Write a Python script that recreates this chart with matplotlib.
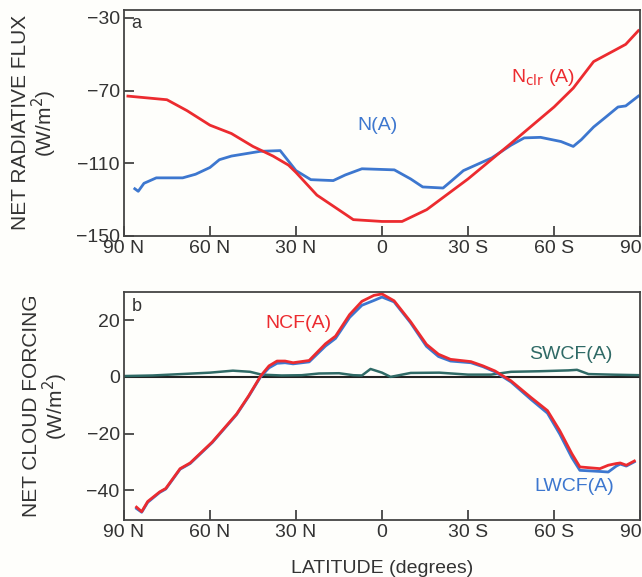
import matplotlib.pyplot as plt

# -------------------------------------
#  Data (latitude: negative = N, positive = S)
# -------------------------------------

lat_nclr = [-88.6, -75, -68, -60, -52.5, -45, -38, -32.6, -30, -22.7, -12.8, -10, 0, 7,
            15.6, 30, 45, 60, 66.7, 73.8, 80.9, 85, 89.4]
nclr = [-73, -75, -81, -89, -93.6, -100.7, -106, -111, -115, -127.5, -138, -141, -142,
        -142, -135.5, -118.6, -99, -79, -68.6, -54, -48, -44.5, -37]

lat_n = [-86.2, -85, -83, -78.7, -69.5, -65, -60, -56.7, -52.5, -42.5, -35.5, -30, -24.8,
         -17, -12.8, -7, 4.3, 10, 14.2, 21.3, 24, 28.4, 38.3, 45, 49.6, 55.3, 62.4, 66.7,
         69.5, 73.8, 78, 82.3, 85, 89.4]
n_all = [-124, -125.4, -121, -118, -118, -116, -112.3, -108, -106, -103.4, -103, -114,
         -119, -119.5, -116.4, -113, -113.6, -118.6, -123, -123.6, -120, -114, -107, -100,
         -96, -95.7, -98, -100.7, -97, -90, -84.6, -79, -78.4, -73]

lat_cf = [-85.6, -83.8, -81.7, -77.5, -75.4, -70.4, -66.9, -59.2, -50.7, -46.5, -42.3,
          -39.4, -36.6, -33.8, -31, -25.4, -19.7, -16.2, -11.3, -7, -2.8, 0, 4.2, 9.9,
          15.5, 19.7, 23.9, 31, 35.2, 39.4, 45, 52, 57.7, 62, 66.2, 69, 76, 78.9, 81.7,
          83.1, 85.2, 88]
ncf = [-46, -47.6, -44, -40.6, -39.4, -32.4, -30.4, -23, -13.1, -6.7, 0.35, 3.9, 5.6, 5.6,
       5, 5.8, 11.7, 14.4, 22, 26.7, 28.8, 29.3, 26.9, 19.6, 11.5, 8, 6.2, 5.4, 3.9, 2.1,
       -1.4, -7.3, -11.9, -19, -27.1, -31.8, -32.4, -31.2, -30.6, -30.4, -31.2, -29.7]
lwcf = [-46.5, -47.8, -44.3, -40.8, -39.6, -32.6, -30.6, -23.2, -13.3, -6.9, 0.1, 3.2, 4.8,
        5.0, 4.6, 5.3, 10.9, 13.6, 21, 25.3, 27, 28.2, 26.5, 19.2, 10.8, 7.2, 5.6, 5.0,
        3.6, 1.8, -1.8, -8, -12.8, -20.2, -28.5, -33, -33.4, -33.6, -31.5, -30.8, -31.5,
        -30]

lat_sw = [-90, -80, -70, -60, -52, -46, -42, -35, -28, -22, -15, -10, -7, -4, 0, 3, 6, 10,
          20, 30, 38, 45, 55, 65, 68, 72, 80, 90]
swcf = [0.3, 0.5, 1, 1.5, 2.2, 1.8, 0.8, 0.5, 0.6, 1.2, 1.3, 0.6, 0.5, 2.8, 1.5, 0.0, 0.6,
        1.4, 1.5, 0.8, 0.8, 1.8, 2.0, 2.3, 2.5, 1.0, 0.8, 0.6]

xticks = [-90, -60, -30, 0, 30, 60, 90]
xticklabels = ["90 N", "60 N", "30 N", "0", "30 S", "60 S", "90 S"]

RED = "#ec2b2f"
BLUE = "#3d77cf"
TEAL = "#2f6a66"
FRAME = "#444444"
TXT = "#333333"

plt.rcParams["font.family"] = ["Liberation Sans", "DejaVu Sans"]

fig = plt.figure(figsize=(6.42, 5.77), dpi=100)
fig.patch.set_facecolor("#fefefb")

ax1 = fig.add_axes([0.193, 0.591, 0.804, 0.392])
ax2 = fig.add_axes([0.193, 0.099, 0.804, 0.395])

for ax in (ax1, ax2):
    ax.set_facecolor("#fefefb")
    ax.set_xlim(-90, 90)
    ax.set_xticks(xticks)
    ax.set_xticklabels(xticklabels)
    ax.tick_params(direction="in", length=7, width=1.3, colors=FRAME,
                   labelsize=14, labelcolor=TXT, pad=3)
    for s in ax.spines.values():
        s.set_color(FRAME)
        s.set_linewidth(1.3)

# -------------------------------------
#  Panel a
# -------------------------------------
ax1.plot(lat_n, n_all, color=BLUE, lw=2)
ax1.plot(lat_nclr, nclr, color=RED, lw=2)
ax1.set_ylim(-150, -25.5)
ax1.set_yticks([-30, -70, -110, -150])
ax1.text(0.015, 0.975, "a", transform=ax1.transAxes, va="top", fontsize=13, color=TXT)
ax1.text(-1.5, -89, "N(A)", color=BLUE, fontsize=14, ha="center", va="center")
ax1.text(56, -63, r"N$_{\rm clr}$ (A)", color=RED, fontsize=14, ha="center", va="center")
ax1.set_ylabel("NET RADIATIVE FLUX\n(W/m$^2$)", fontsize=15, color=TXT,
               linespacing=1.0, labelpad=12)

# -------------------------------------
#  Panel b
# -------------------------------------
ax2.axhline(0, color="#222222", lw=1.5)
ax2.plot(lat_sw, swcf, color=TEAL, lw=1.8)
ax2.plot(lat_cf, lwcf, color=BLUE, lw=2)
ax2.plot(lat_cf, ncf, color=RED, lw=2)
ax2.set_ylim(-50.5, 30)
ax2.set_yticks([20, 0, -20, -40])
ax2.text(0.015, 0.975, "b", transform=ax2.transAxes, va="top", fontsize=13, color=TXT)
ax2.text(-29, 19, "NCF(A)", color=RED, fontsize=14, ha="center", va="center")
ax2.text(66, 8, "SWCF(A)", color=TEAL, fontsize=14, ha="center", va="center")
ax2.text(67, -38.6, "LWCF(A)", color=BLUE, fontsize=14, ha="center", va="center")
ax2.set_ylabel("NET CLOUD FORCING\n(W/m$^2$)", fontsize=15, color=TXT,
               linespacing=1.0, labelpad=12)
ax2.set_xlabel("LATITUDE (degrees)", fontsize=14, color=TXT, labelpad=14)

fig.savefig("out.png", dpi=100, facecolor=fig.get_facecolor())
